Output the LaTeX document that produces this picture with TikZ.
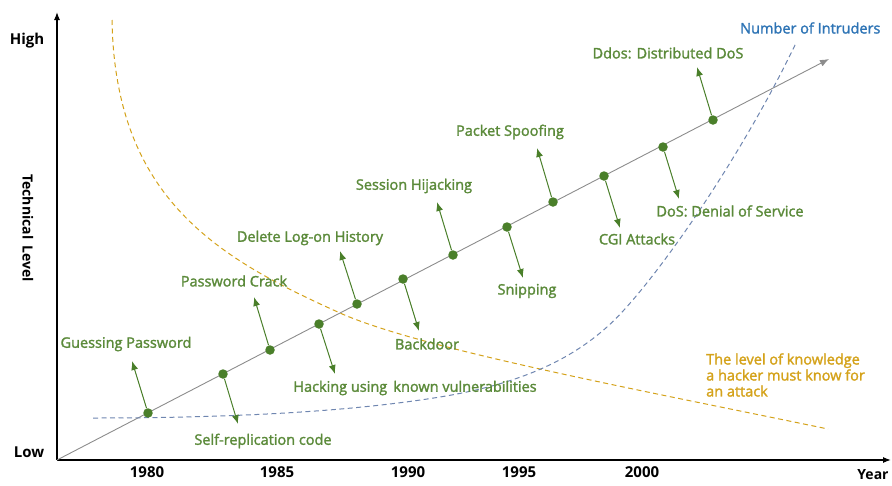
\documentclass[tikz,border=0pt]{standalone}
\usepackage{fontspec}
\setmainfont{Open Sans}
\newfontfamily\labelfont[FakeBold=1.8]{Open Sans}
\usetikzlibrary{arrows.meta}
\definecolor{evgreen}{HTML}{4A7F2A}
\definecolor{evtext}{HTML}{5B8A3A}
\definecolor{knowgold}{HTML}{D4A21A}
\definecolor{intblue}{HTML}{2E74B5}
\definecolor{intdash}{HTML}{6F86B0}
\definecolor{trendgray}{HTML}{8C8C8C}
\tikzset{
  axis/.style={line width=1.2pt, black, -{Latex[length=8pt,width=6pt]}},
  trend/.style={line width=0.9pt, trendgray, -{Latex[length=9pt,width=7pt]}},
  event/.style={circle, fill=evgreen, inner sep=0pt, minimum size=9.5pt},
  evarrow/.style={line width=1pt, evgreen, -{Latex[length=9pt,width=7pt]}},
  evlabel/.style={text=evtext, font=\labelfont\fontsize{14.5}{16}\selectfont, inner sep=0pt},
  ticklabel/.style={font=\fontsize{15}{17}\selectfont\bfseries, inner sep=0pt},
  curvegold/.style={knowgold, line width=1pt, dash pattern=on 5pt off 3.5pt},
  curveblue/.style={intdash, line width=1pt, dash pattern=on 5pt off 3.5pt},
}
\begin{document}
\begin{tikzpicture}[x=1pt,y=-1pt]
\useasboundingbox (0,0) rectangle (892,485);

% axes
\coordinate (O) at (57,460);
\coordinate (ytop) at (57,12);
\coordinate (xend) at (891,460);
\draw[axis] (O) -- (ytop);
\draw[axis] (O) -- (xend);

% overall trend line
\coordinate (tEnd) at (829,59);
\draw[trend] (O) -- (tEnd);

% knowledge curve (decreasing)
\draw[curvegold] (112,20) .. controls (115,200) and (220,259) .. (340,313)
                 .. controls (420,349) and (650,392) .. (828,429);

% number of intruders curve (increasing)
\draw[curveblue] (93,418) .. controls (250,418) and (360,410) .. (440,397)
                 .. controls (520,384) and (570,360) .. (607,327)
                 .. controls (650,289) and (740,160) .. (796,43);

% event points on the trend line
\node[event] (d1)  at (148,413) {};
\node[event] (d2)  at (223,374) {};
\node[event] (d3)  at (270,350) {};
\node[event] (d4)  at (319,324) {};
\node[event] (d5)  at (357,304) {};
\node[event] (d6)  at (403,279) {};
\node[event] (d7)  at (453,255) {};
\node[event] (d8)  at (507,227) {};
\node[event] (d9)  at (553,202) {};
\node[event] (d10) at (604,176) {};
\node[event] (d11) at (663,147) {};
\node[event] (d12) at (713,120) {};

% arrow ends
\coordinate (a1)  at (132,361);
\coordinate (a2)  at (238,424);
\coordinate (a3)  at (254,297);
\coordinate (a4)  at (335,374);
\coordinate (a5)  at (340,251);
\coordinate (a6)  at (419,331);
\coordinate (a7)  at (437,202);
\coordinate (a8)  at (523,278);
\coordinate (a9)  at (537,148);
\coordinate (a10) at (620,228);
\coordinate (a11) at (679,199);
\coordinate (a12) at (697,67);

\foreach \i in {1,...,12} \draw[evarrow] (d\i) -- (a\i);

% event labels
\node[evlabel] (l1)  at (126,344) {Guessing Password};
\node[evlabel] (l2)  at (263,441) {Self-replication code};
\node[evlabel] (l3)  at (234,281) {Password Crack};
\node[evlabel] (l4)  at (415,388) {Hacking using\, known vulnerabilities};
\node[evlabel] (l5)  at (310,238) {Delete Log-on History};
\node[evlabel] (l6)  at (427,344) {Backdoor};
\node[evlabel] (l7)  at (414,186) {Session Hijacking};
\node[evlabel] (l8)  at (527,291) {Snipping};
\node[evlabel] (l9)  at (510,132) {Packet Spoofing};
\node[evlabel] (l10) at (637,239) {CGI Attacks};
\node[evlabel] (l11) at (730,211) {DoS: Denial of Service};
\node[evlabel] (l12) at (668,53)  {Ddos: Distributed DoS};

% curve captions
\node[evlabel, text=intblue, anchor=west] (nint) at (740,28) {Number of Intruders};
\node[evlabel, text=knowgold, anchor=west, align=left] (know) at (706,375)
  {The level of knowledge\\a hacker must know for\\an attack};

% axis labels
\node[ticklabel] (high) at (27,41) {High};
\node[ticklabel] (low)  at (29,452) {Low};
\node[ticklabel, font=\fontsize{14}{16}\selectfont\bfseries, rotate=-90] (tech) at (28,228) {Technical\, Level};
\node[ticklabel, font=\fontsize{14}{16}\selectfont\bfseries] (year) at (873,475) {Year};
\node[ticklabel] (y80) at (147,472) {1980};
\node[ticklabel] (y85) at (277,472) {1985};
\node[ticklabel] (y90) at (408,472) {1990};
\node[ticklabel] (y95) at (519,472) {1995};
\node[ticklabel] (y00) at (642,472) {2000};
\end{tikzpicture}
\end{document}
